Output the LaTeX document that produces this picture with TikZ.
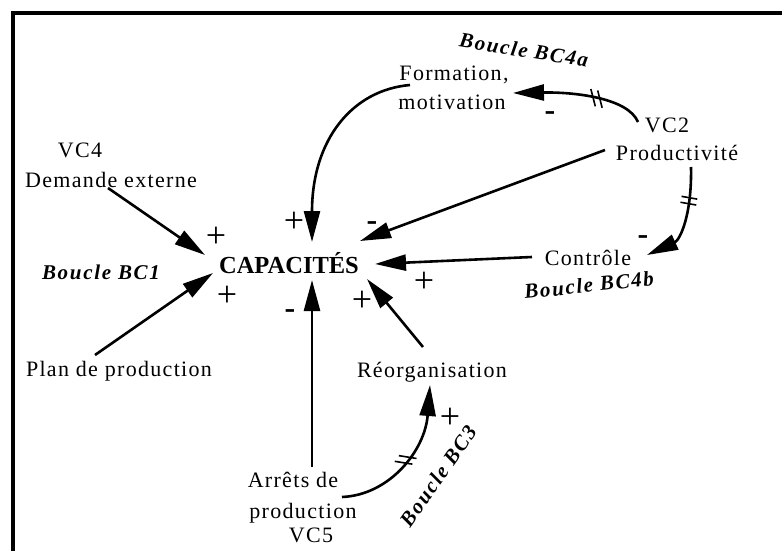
\documentclass[tikz,border=0pt]{standalone}
\usepackage{fontspec}
\setmainfont{Liberation Serif}
\newfontfamily\spacedfont{Liberation Serif}[LetterSpace=6]
\newfontfamily\bspacedfont{Liberation Serif}[LetterSpace=8]
\usetikzlibrary{arrows.meta,decorations.markings}
\tikzset{
  lbl/.style={font=\spacedfont\fontsize{22}{25}\selectfont, inner sep=0pt, anchor=base},
  capstyle/.style={font=\bfseries\fontsize{24.5}{27}\selectfont, inner sep=0pt, anchor=base},
  boucle/.style={font=\bspacedfont\bfseries\itshape\fontsize{21}{24}\selectfont, inner sep=0pt},
  plussign/.style={font=\fontsize{36}{36}\selectfont, inner sep=0pt},
  minussign/.style={font=\bfseries\fontsize{32}{32}\selectfont, inner sep=0pt},
  conn/.style={line width=2.6pt, -{Triangle[length=31pt,width=16pt]}},
  slashmarks/.style={postaction={decorate,decoration={markings,
      mark=at position #1 with {\draw[line width=1.6pt,-] (-6,-8)--(2,8) (1,-8)--(9,8);}}}},
  barmarks/.style={postaction={decorate,decoration={markings,
      mark=at position #1 with {\draw[line width=1.6pt,-] (-3,-8)--(-3,8) (3,-8)--(3,8);}}}},
  frameline/.style={line width=4pt, line join=miter}
}
\begin{document}
\begin{tikzpicture}[x=1pt,y=-1pt]
\useasboundingbox (0,0) rectangle (782,551);
\draw[frameline] (13,551) -- (13,13) -- (782,13);

% text nodes
\node[boucle, rotate=-9] (bc4a) at (524,50) {Boucle BC4a};
\node[lbl] (form1) at (454,81) {Formation,};
\node[lbl] (form2) at (452,110) {motivation};
\node[lbl] (vc2) at (667,132) {VC2};
\node[lbl] (prod) at (677,160) {Productivité};
\node[lbl] (ctrl) at (588,265) {Contrôle};
\node[boucle, rotate=6] (bc4b) at (589,285) {Boucle BC4b};
\node[lbl] (vc4) at (80,157) {VC4};
\node[lbl] (dem) at (111,187) {Demande externe};
\node[boucle] (bc1) at (101,272) {Boucle BC1};
\node[capstyle] (cap) at (289,273) {CAPACITÉS};
\node[lbl] (plan) at (119,376) {Plan de production};
\node[lbl] (reorg) at (432,377) {Réorganisation};
\node[lbl] (arr1) at (293,487) {Arrêts de};
\node[lbl] (arr2) at (303,518) {production};
\node[lbl] (vc5) at (311,542) {VC5};
\node[boucle, rotate=55] (bc3) at (438,476) {Boucle BC3};

% signs
\node[plussign] (p1) at (216,237) {+};
\node[plussign] (p2) at (227,296) {+};
\node[plussign] (p3) at (294,222) {+};
\node[minussign] (m1) at (372,226) {-};
\node[plussign] (p4) at (424,282) {+};
\node[plussign] (p5) at (362,301) {+};
\node[minussign] (m2) at (290,314) {-};
\node[minussign] (m3) at (550,116) {-};
\node[minussign] (m4) at (643,240) {-};
\node[plussign] (p6) at (450,418) {+};

% connector end points
\coordinate (demOut) at (108,188);
\coordinate (capNW) at (205,255);
\coordinate (planOut) at (95,355);
\coordinate (capSW) at (213,273);
\coordinate (formOut) at (410,85);
\coordinate (capN) at (312,242);
\coordinate (vc2Out) at (638,122);
\coordinate (formIn) at (513,93);
\coordinate (prodOut) at (605,150);
\coordinate (capNE) at (360,241);
\coordinate (prodDown) at (691,167);
\coordinate (ctrlIn) at (647,255);
\coordinate (ctrlOut) at (532,257);
\coordinate (capE) at (375,264);
\coordinate (reorgOut) at (423,347);
\coordinate (capSE) at (367,279);
\coordinate (arrUp) at (312,467);
\coordinate (capS) at (312,280);
\coordinate (arrOut) at (342,497);
\coordinate (reorgIn) at (430,385);

% connectors
\draw[conn] (demOut) -- (capNW);
\draw[conn] (planOut) -- (capSW);
\draw[conn] (formOut) .. controls (352,90) and (312,140) .. (capN);
\draw[conn, slashmarks=0.36] (vc2Out) .. controls (628,98) and (575,92) .. (formIn);
\draw[conn] (prodOut) -- (capNE);
\draw[conn, barmarks=0.32] (prodDown) .. controls (692,215) and (680,240) .. (ctrlIn);
\draw[conn] (ctrlOut) -- (capE);
\draw[conn] (reorgOut) -- (capSE);
\draw[conn] (arrUp) -- (capS);
\draw[conn, slashmarks=0.48] (arrOut) .. controls (390,495) and (425,450) .. (reorgIn);
\end{tikzpicture}
\end{document}
